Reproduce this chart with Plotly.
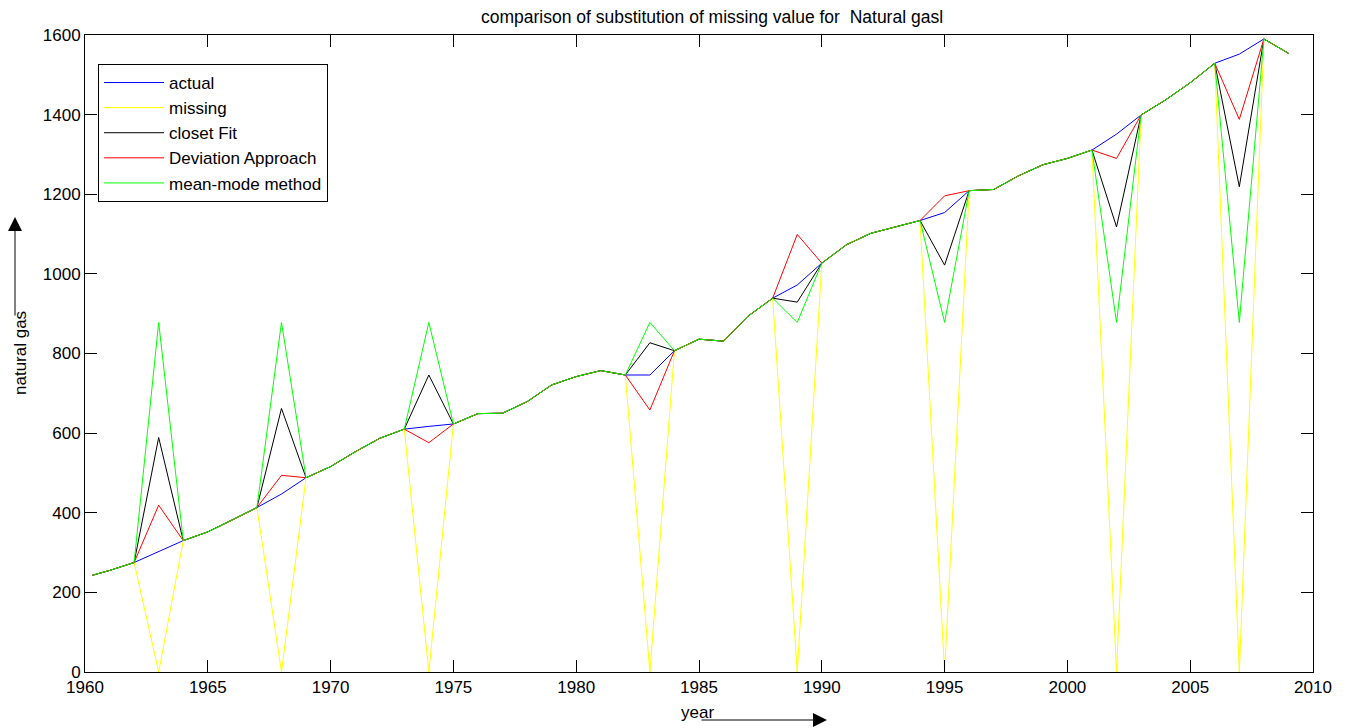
import plotly.graph_objects as go

years = [1960.3] + list(range(1961, 2010))
actual = [243, 255, 275, 302, 330, 352, 382, 413, 447, 488,
          516, 553, 587, 610, 617, 623, 649, 650, 679, 721,
          742, 757, 746, 746, 807, 836, 831, 894, 939, 972,
          1027, 1073, 1102, 1118, 1134, 1154, 1209, 1212, 1246, 1274,
          1290, 1311, 1351, 1399, 1437, 1480, 1529, 1552, 1590, 1554]

gap_years = [1963, 1968, 1974, 1983, 1989, 1995, 2002, 2007]
missing_vals = [0, 0, 0, 0, 0, 0, 0, 0]
closest_vals = [589, 662, 746, 827, 929, 1022, 1118, 1219]
deviation_vals = [419, 494, 576, 658, 1099, 1196, 1290, 1388]
meanmode_vals = [878, 878, 878, 878, 878, 878, 878, 878]

x_ticks = [1960, 1965, 1970, 1975, 1980, 1985, 1990, 1995, 2000, 2005, 2010]
y_ticks = [0, 200, 400, 600, 800, 1000, 1200, 1400, 1600]


def fill(vals):
    sub = dict(zip(gap_years, vals))
    return [sub.get(y, a) for y, a in zip(years, actual)]


series = [
    ("actual", actual, "#0000ff"),
    ("missing", fill(missing_vals), "#ffff00"),
    ("closet Fit", fill(closest_vals), "#000000"),
    ("Deviation Approach", fill(deviation_vals), "#ff0000"),
    ("mean-mode method", fill(meanmode_vals), "#00ff00"),
]

FONT = "Arial, Liberation Sans, sans-serif"

fig = go.Figure()
for name, vals, col in series:
    fig.add_trace(go.Scatter(x=years, y=vals, mode="lines", name=name,
                             line=dict(color=col, width=1)))

axis_common = dict(showgrid=False, zeroline=False, showline=True, linecolor="black",
                   linewidth=1, mirror="ticks", ticks="inside", ticklen=12,
                   tickcolor="black", tickwidth=1,
                   tickfont=dict(family=FONT, size=17, color="black"))

# page body has an 8px margin: plot area spans x 85..1313, y 35..672 in the window
fig.update_layout(
    width=1342, height=720,
    margin=dict(l=77, r=37, t=27, b=56),
    paper_bgcolor="white", plot_bgcolor="white",
    xaxis=dict(range=[1960, 2010], tickvals=x_ticks, **axis_common),
    yaxis=dict(range=[0, 1600], tickvals=y_ticks, **axis_common),
    legend=dict(x=0.0106, y=0.9545, xanchor="left", yanchor="top",
                bordercolor="black", borderwidth=1, bgcolor="white",
                font=dict(family=FONT, size=17, color="black"),
                tracegroupgap=0, itemwidth=60),
    showlegend=True,
    annotations=[
        dict(text="comparison of substitution of missing value for  Natural gasl",
             xref="paper", yref="paper", x=0.5106, y=(672 - 17) / 637, showarrow=False,
             xanchor="center", yanchor="middle",
             font=dict(family=FONT, size=17.5, color="black")),
        dict(text="year", xref="paper", yref="paper", x=(697 - 85) / 1228,
             y=(672 - 712) / 637, showarrow=False, xanchor="center", yanchor="middle",
             font=dict(family=FONT, size=17, color="black")),
        dict(text="natural gas", xref="paper", yref="paper", x=(20 - 85) / 1228,
             y=(672 - 353) / 637, showarrow=False, textangle=-90,
             xanchor="center", yanchor="middle",
             font=dict(family=FONT, size=17, color="black")),
        # y arrow
        dict(text="", xref="paper", yref="paper", x=(15 - 85) / 1228,
             y=(672 - 217) / 637, ax=0, ay=100, axref="pixel", ayref="pixel",
             showarrow=True, arrowhead=2, arrowsize=2.8, arrowwidth=1,
             arrowcolor="black"),
        # x arrow
        dict(text="", xref="paper", yref="paper", x=(827 - 85) / 1228,
             y=(672 - 720) / 637, ax=-127, ay=0, axref="pixel", ayref="pixel",
             showarrow=True, arrowhead=2, arrowsize=2.8, arrowwidth=1,
             arrowcolor="black"),
    ],
)

fig.write_html("out.html")
